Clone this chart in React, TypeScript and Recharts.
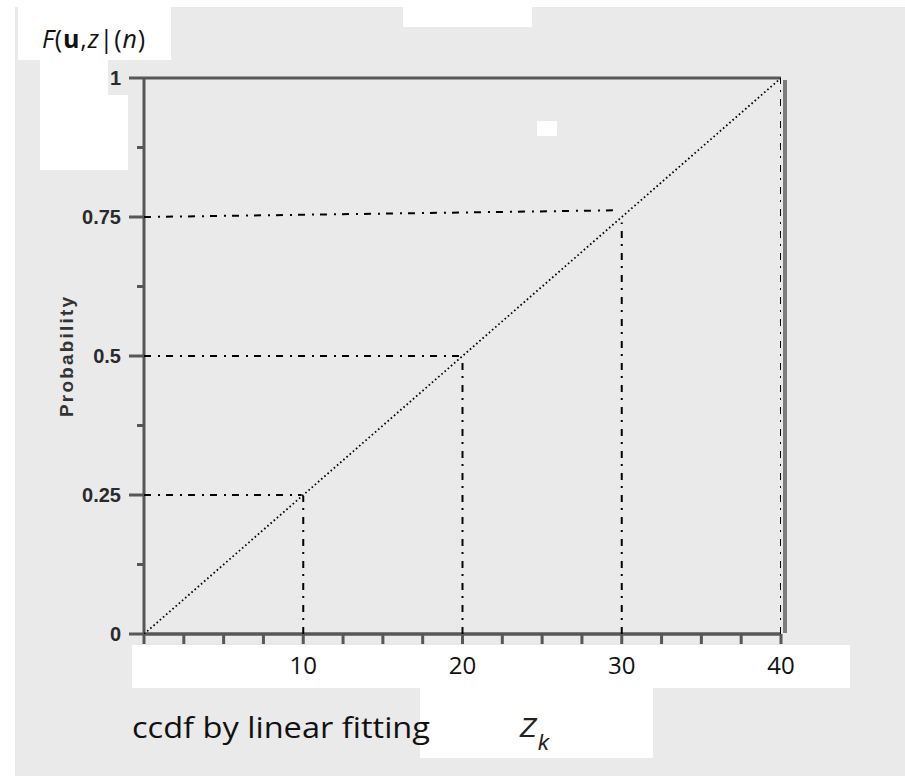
import React from "react";
import { ComposedChart, Line, XAxis, YAxis, ReferenceLine } from "recharts";

// ─── Data ────────────────────────────────────────────────────────────────

const zTicks = [0, 2.5, 5, 7.5, 10, 12.5, 15, 17.5, 20, 22.5, 25, 27.5, 30, 32.5, 35, 37.5, 40];
const zLabels = [10, 20, 30, 40];
const pTicks = [0, 0.125, 0.25, 0.375, 0.5, 0.625, 0.75, 0.875, 1];
const pLabels: Record<string, string> = { "0": "0", "0.25": "0.25", "0.5": "0.5", "0.75": "0.75", "1": "1" };

const fitLine = [{ z: 0, p: 0 }, { z: 40, p: 1 }];
const guideH25 = [{ z: 0, p: 0.25 }, { z: 9.9, p: 0.25 }];
const guideV10 = [{ z: 10, p: 0 }, { z: 10, p: 0.248 }];
const guideH50 = [{ z: 0, p: 0.5 }, { z: 19.8, p: 0.5 }];
const guideV20 = [{ z: 20, p: 0 }, { z: 20, p: 0.495 }];
const guideH75 = [{ z: 0, p: 0.75 }, { z: 29.5, p: 0.762 }];
const guideV30 = [{ z: 30, p: 0 }, { z: 30, p: 0.74 }];
const guideV40 = [{ z: 40, p: 0 }, { z: 40, p: 1 }];

// ─── Layout ──────────────────────────────────────────────────────────────

const W = 905;
const H = 776;
const AXIS_X = 144;
const AXIS_Y = 634;
const frame = "#575757";
const bg = "#eaeaea";
const dashDot = "7 7 2 6";

const whiteBoxes = [
  { left: 18, top: 7, width: 153, height: 53 },
  { left: 40, top: 60, width: 68, height: 110 },
  { left: 108, top: 95, width: 20, height: 75 },
  { left: 403, top: 0, width: 129, height: 27 },
  { left: 537, top: 121, width: 20, height: 15 },
  { left: 132, top: 645, width: 718, height: 43 },
  { left: 420, top: 688, width: 233, height: 70 },
];

const renderPTick = (props: any) => {
  const { y, payload } = props;
  const label = pLabels[String(payload.value)];
  const major = label !== undefined;
  return (
    <g>
      <line x1={AXIS_X - (major ? 15 : 7)} x2={AXIS_X} y1={y} y2={y} stroke={frame} strokeWidth={3} />
      {major && (
        <text x={AXIS_X - 23} y={y + 7} textAnchor="end" fontFamily="Liberation Sans" fontWeight="bold" fontSize={20} fill="#2a2a2a">
          {label}
        </text>
      )}
    </g>
  );
};

const renderZTick = (props: any) => {
  const { x, payload } = props;
  const show = zLabels.includes(payload.value);
  return (
    <g>
      <line x1={x} x2={x} y1={AXIS_Y} y2={AXIS_Y + 10} stroke={frame} strokeWidth={3} />
      {show && (
        <text x={x} y={674} textAnchor="middle" fontFamily="Open Sans" fontSize={24} fill="#111">
          {payload.value}
        </text>
      )}
    </g>
  );
};

const guide = (data: { z: number; p: number }[], key: string) => (
  <Line
    key={key}
    data={data}
    dataKey="p"
    type="linear"
    stroke="#000"
    strokeWidth={2}
    strokeDasharray={dashDot}
    dot={false}
    activeDot={false}
    isAnimationActive={false}
  />
);

export default function App() {
  return (
    <div style={{ position: "absolute", left: 0, top: 0, width: W, height: H, background: "#fff", overflow: "hidden" }}>
      <div style={{ position: "absolute", left: 15, top: 7, right: 0, bottom: 0, background: bg }} />
      {whiteBoxes.map((b, i) => (
        <div key={i} style={{ position: "absolute", background: "#fff", ...b }} />
      ))}
      <div style={{ position: "absolute", left: 0, top: 0 }}>
        <ComposedChart width={W} height={H} margin={{ top: 78, right: 124, bottom: 112, left: 84 }}>
          <XAxis
            dataKey="z"
            type="number"
            domain={[0, 40]}
            ticks={zTicks}
            interval={0}
            height={30}
            axisLine={false}
            tickLine={false}
            tick={renderZTick}
            allowDataOverflow
          />
          <YAxis
            type="number"
            domain={[0, 1]}
            ticks={pTicks}
            interval={0}
            width={60}
            axisLine={false}
            tickLine={false}
            tick={renderPTick}
            allowDataOverflow
          />
          <ReferenceLine y={1} stroke={frame} strokeWidth={3} />
          <ReferenceLine y={0} stroke={frame} strokeWidth={3.5} />
          <ReferenceLine x={0} stroke={frame} strokeWidth={3} />
          <ReferenceLine
            x={40}
            shape={(p: any) => (
              <line x1={p.x1 + 4} x2={p.x2 + 4} y1={p.y1 - 1} y2={p.y2 + 2} stroke="#7d7d7d" strokeWidth={4} />
            )}
          />
          <Line
            data={fitLine}
            dataKey="p"
            type="linear"
            stroke="#000"
            strokeWidth={1.8}
            strokeDasharray="1.6 2.6"
            dot={false}
            activeDot={false}
            isAnimationActive={false}
          />
          {guide(guideH25, "h25")}
          {guide(guideV10, "v10")}
          {guide(guideH50, "h50")}
          {guide(guideV20, "v20")}
          {guide(guideH75, "h75")}
          {guide(guideV30, "v30")}
          {guide(guideV40, "v40")}
        </ComposedChart>
      </div>
      <svg width={W} height={H} style={{ position: "absolute", left: 0, top: 0, pointerEvents: "none" }}>
        <text x={42} y={48} fontFamily="Open Sans" fontSize={25} fill="#111" textLength={103} lengthAdjust="spacing">
          <tspan fontStyle="italic">F</tspan>(<tspan fontWeight="bold">u</tspan>,<tspan fontStyle="italic">z</tspan>|(<tspan fontStyle="italic">n</tspan>)
        </text>
        <text
          transform="translate(73,357) rotate(-90)"
          textAnchor="middle"
          fontFamily="Liberation Sans"
          fontWeight="bold"
          fontSize={19}
          fill="#333"
          textLength={120}
          lengthAdjust="spacing"
        >
          Probability
        </text>
        <text x={132} y={738} fontFamily="Open Sans" fontSize={29} fill="#111" textLength={298} lengthAdjust="spacingAndGlyphs">
          ccdf by linear fitting
        </text>
        <text x={520} y={737} fontFamily="Liberation Sans" fontStyle="italic" fontSize={27} fill="#222">
          Z
        </text>
        <text x={538} y={750} fontFamily="Liberation Sans" fontStyle="italic" fontSize={22} fill="#222">
          k
        </text>
      </svg>
    </div>
  );
}
